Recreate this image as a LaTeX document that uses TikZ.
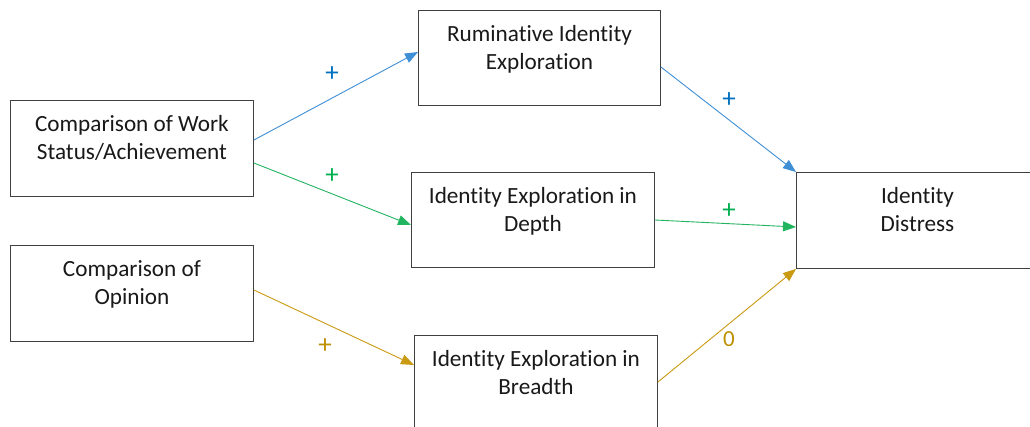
\documentclass[tikz,border=0pt]{standalone}
\usepackage{fontspec}
\setmainfont[Ligatures={NoCommon}]{Carlito}
\usetikzlibrary{arrows.meta,calc}
\definecolor{boxline}{HTML}{404040}
\definecolor{bl}{HTML}{3F8FD6}
\definecolor{blt}{HTML}{0070C0}
\definecolor{gr}{HTML}{22B560}
\definecolor{grt}{HTML}{00B050}
\definecolor{gd}{HTML}{C99A12}
\definecolor{gdt}{HTML}{BF9000}
\newcommand\mybox[3]{\parbox[t][#2pt][t]{#1pt}{\centering\rule{0pt}{31pt}#3}}
\begin{document}
\begin{tikzpicture}[x=1pt,y=-1pt,
  box/.style={draw=boxline, line width=0.9pt, anchor=north west, inner sep=0pt,
    font=\fontsize{23.2}{28}\selectfont, text=black!90},
  conn/.style={line width=0.9pt, -{Triangle[length=13pt,width=10pt]}},
  lab/.style={font=\fontsize{23}{26}\selectfont, inner sep=0pt},
  plus/.style={font=\fontsize{27}{30}\selectfont, inner sep=0pt}]
\useasboundingbox (0,0) rectangle (1030,427);
\fill[white] (0,0) rectangle (1030,427);
\node[box] (A) at (10,100) {\mybox{243}{96}{Comparison of Work\\Status/Achievement}};
\node[box] (B) at (10,245) {\mybox{243}{96}{Comparison of\\Opinion}};
\node[box] (R) at (418,10) {\mybox{242}{95}{Ruminative Identity\\Exploration}};
\node[box] (D) at (411,172) {\mybox{243}{95}{Identity Exploration in\\Depth}};
\node[box] (Br) at (414,335) {\mybox{243}{96}{Identity Exploration in\\Breadth}};
\node[box] (ID) at (796,172) {\mybox{242}{96}{Identity\\Distress}};
\draw[conn, bl] ($(A.north east)+(0,40)$) -- ($(R.north west)+(0,42)$);
\draw[conn, gr] ($(A.north east)+(0,63)$) -- ($(D.north west)+(0,53)$);
\draw[conn, gd] ($(B.north east)+(0,45)$) -- ($(Br.north west)+(0,30)$);
\draw[conn, bl] ($(R.north east)+(0,57)$) -- (ID.north west);
\draw[conn, gr] ($(D.north east)+(0,48)$) -- ($(ID.north west)+(0,55)$);
\draw[conn, gd] ($(Br.north east)+(0,47)$) -- (ID.south west);
\node[plus, text=blt] (l1) at (332,74) {+};
\node[plus, text=grt] (l2) at (332,176) {+};
\node[plus, text=gdt] (l3) at (325,346) {+};
\node[plus, text=blt] (l4) at (729,100) {+};
\node[plus, text=grt] (l5) at (729,211) {+};
\node[lab, text=gdt] (l6) at (729,339) {0};
\end{tikzpicture}
\end{document}
